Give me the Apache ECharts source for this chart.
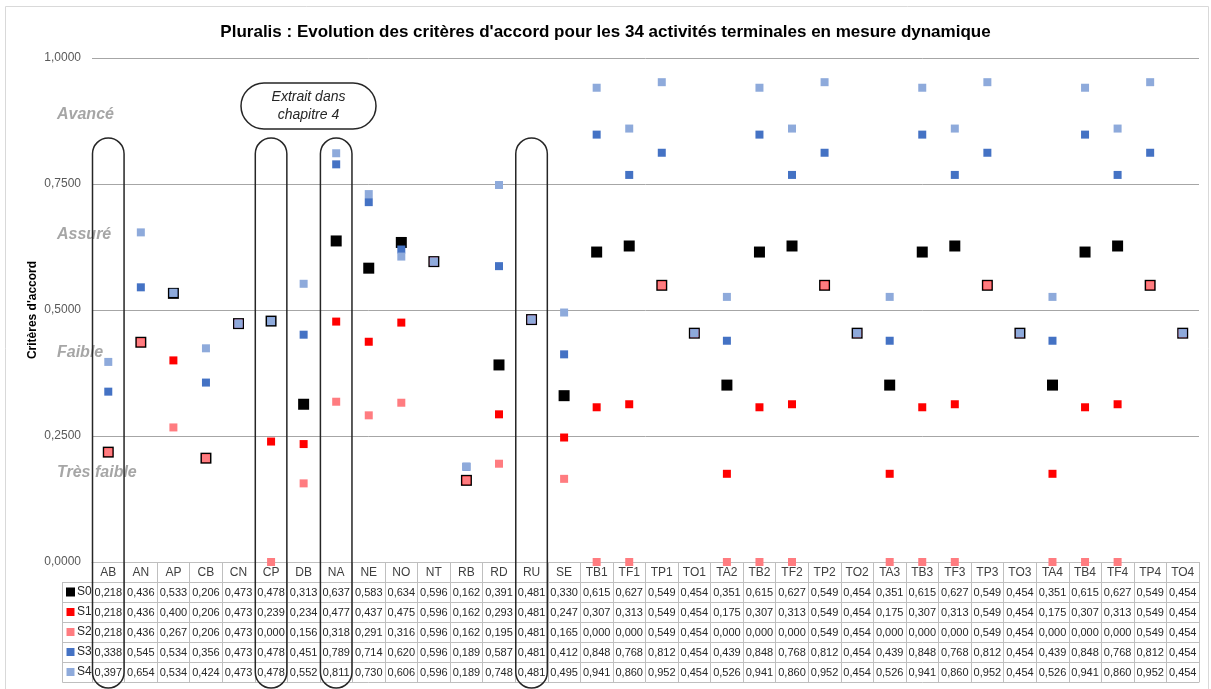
<!DOCTYPE html>
<html>
<head>
<meta charset="utf-8">
<script src="https://cdn.jsdelivr.net/npm/echarts@6/dist/echarts.min.js"></script>
<style>
  html, body { margin: 0; padding: 0; background: #fff; }
  #main-chart { width: 1211px; height: 689px; }
</style>
</head>
<body>
<div id="main-chart"></div>
<script>
// activités terminales
const categories = ['AB', 'AN', 'AP', 'CB', 'CN', 'CP', 'DB', 'NA', 'NE', 'NO', 'NT', 'RB', 'RD', 'RU', 'SE',
  'TB1', 'TF1', 'TP1', 'TO1', 'TA2', 'TB2', 'TF2', 'TP2', 'TO2', 'TA3', 'TB3', 'TF3', 'TP3', 'TO3',
  'TA4', 'TB4', 'TF4', 'TP4', 'TO4']

const s0 = [0.218, 0.436, 0.533, 0.206, 0.473, 0.478, 0.313, 0.637, 0.583, 0.634, 0.596, 0.162, 0.391, 0.481, 0.330,
  0.615, 0.627, 0.549, 0.454, 0.351, 0.615, 0.627, 0.549, 0.454, 0.351, 0.615, 0.627, 0.549, 0.454,
  0.351, 0.615, 0.627, 0.549, 0.454]
const s1 = [0.218, 0.436, 0.400, 0.206, 0.473, 0.239, 0.234, 0.477, 0.437, 0.475, 0.596, 0.162, 0.293, 0.481, 0.247,
  0.307, 0.313, 0.549, 0.454, 0.175, 0.307, 0.313, 0.549, 0.454, 0.175, 0.307, 0.313, 0.549, 0.454,
  0.175, 0.307, 0.313, 0.549, 0.454]
const s2 = [0.218, 0.436, 0.267, 0.206, 0.473, 0.000, 0.156, 0.318, 0.291, 0.316, 0.596, 0.162, 0.195, 0.481, 0.165,
  0.000, 0.000, 0.549, 0.454, 0.000, 0.000, 0.000, 0.549, 0.454, 0.000, 0.000, 0.000, 0.549, 0.454,
  0.000, 0.000, 0.000, 0.549, 0.454]
const s3 = [0.338, 0.545, 0.534, 0.356, 0.473, 0.478, 0.451, 0.789, 0.714, 0.620, 0.596, 0.189, 0.587, 0.481, 0.412,
  0.848, 0.768, 0.812, 0.454, 0.439, 0.848, 0.768, 0.812, 0.454, 0.439, 0.848, 0.768, 0.812, 0.454,
  0.439, 0.848, 0.768, 0.812, 0.454]
const s4 = [0.397, 0.654, 0.534, 0.424, 0.473, 0.478, 0.552, 0.811, 0.730, 0.606, 0.596, 0.189, 0.748, 0.481, 0.495,
  0.941, 0.860, 0.952, 0.454, 0.526, 0.941, 0.860, 0.952, 0.454, 0.526, 0.941, 0.860, 0.952, 0.454,
  0.526, 0.941, 0.860, 0.952, 0.454]

const seriesNames = ['S0', 'S1', 'S2', 'S3', 'S4']
const seriesData = [s0, s1, s2, s3, s4]
const seriesColors = ['#000000', '#ff0000', '#ff7c80', '#4472c4', '#8eaadb']

const yTicks = [0, 0.25, 0.5, 0.75, 1]
// colonnes entourées
const circled = ['AB', 'CP', 'NA', 'RU']
const levelNames = ['Avancé', 'Assuré', 'Faible', 'Très faible']

const FONT = 'Liberation Sans, Arial, sans-serif'
const GRID_L = 92, GRID_R = 1199, GRID_T = 58, GRID_B = 562
const ROW_H = 20
const tableLine = '#bfbfbf'

const fmt = (v, d) => v.toFixed(d).replace('.', ',')

let myChart = echarts.init(document.getElementById('main-chart'))

// axe des catégories + une ligne par série pour le tableau de données
const xAxes = [{
  type: 'category',
  data: categories,
  gridIndex: 0,
  position: 'bottom',
  offset: 0,
  axisLine: { show: true, lineStyle: { color: tableLine, width: 1 } },
  axisTick: { show: true, interval: 0, length: ROW_H, lineStyle: { color: tableLine } },
  axisLabel: { interval: 0, margin: 5, fontSize: 12, color: '#404040', fontFamily: FONT },
  splitLine: { show: false }
}]
seriesData.forEach((arr, i) => {
  xAxes.push({
    type: 'category',
    data: arr.map(v => fmt(v, 3)),
    position: 'bottom',
    offset: ROW_H * (i + 1),
    axisLine: { show: true, lineStyle: { color: tableLine, width: 1 } },
    axisTick: { show: true, interval: 0, length: ROW_H, lineStyle: { color: tableLine } },
    axisLabel: { interval: 0, margin: 5, fontSize: 11, color: '#262626', fontFamily: FONT },
    splitLine: { show: false }
  })
})
// ligne du bas du tableau
xAxes.push({
  type: 'category',
  data: categories,
  position: 'bottom',
  offset: ROW_H * 6,
  axisLine: { show: true, lineStyle: { color: tableLine, width: 1 } },
  axisTick: { show: false },
  axisLabel: { show: false }
})

const option = {
  animation: false,
  title: {
    text: "Pluralis : Evolution des critères d'accord pour les 34 activités terminales en mesure dynamique",
    left: 'center',
    top: 19,
    textStyle: { fontSize: 17, fontWeight: 'bold', color: '#000', fontFamily: FONT }
  },
  grid: { left: GRID_L, right: 1211 - GRID_R, top: GRID_T, bottom: 689 - GRID_B },
  xAxis: xAxes,
  yAxis: {
    type: 'value',
    min: 0,
    max: 1,
    interval: 0.25,
    name: "Critères d'accord",
    nameLocation: 'middle',
    nameRotate: 90,
    nameGap: 53,
    nameMoveOverlap: false,
    nameTextStyle: { fontSize: 12, fontWeight: 'bold', color: '#000', fontFamily: FONT },
    axisLine: { show: false },
    axisTick: { show: false },
    axisLabel: {
      margin: 11, fontSize: 12, color: '#595959', fontFamily: FONT,
      formatter: v => yTicks.includes(v) ? fmt(v, 4) : ''
    },
    splitLine: { lineStyle: { color: '#a6a6a6', width: 1 } }
  },
  series: seriesData.map((arr, i) => ({
    name: seriesNames[i],
    type: 'scatter',
    xAxisIndex: 0,
    symbol: 'rect',
    symbolSize: i === 0 ? 11 : 8,
    clip: false,
    itemStyle: { color: seriesColors[i], opacity: 1 },
    data: arr
  }))
}

myChart.setOption(option)

// annotations : bulles, niveaux, légende du tableau
const bandW = (GRID_R - GRID_L) / categories.length
const graphic = []

// cadre du graphique
graphic.push({
  type: 'rect', z: 0,
  shape: { x: 5.5, y: 6.5, width: 1203, height: 690 },
  style: { fill: null, stroke: '#d9d9d9', lineWidth: 1 }
})

circled.forEach(c => {
  const cx = myChart.convertToPixel({ xAxisIndex: 0 }, c)
  graphic.push({
    type: 'rect', z: 100,
    shape: { x: cx - bandW / 2 + 0.5, y: 138, width: bandW - 1, height: 550, r: bandW / 2 },
    style: { fill: null, stroke: '#262626', lineWidth: 1.5 }
  })
})

// bulle "Extrait dans chapitre 4"
graphic.push({
  type: 'rect', z: 100,
  shape: { x: 241, y: 83, width: 135, height: 46, r: 23 },
  style: { fill: '#fff', stroke: '#262626', lineWidth: 1.5 }
})
graphic.push({
  type: 'text', z: 101,
  x: 308.5, y: 106,
  style: {
    text: 'Extrait dans\nchapitre 4', align: 'center', verticalAlign: 'middle',
    font: 'italic 14px ' + FONT, lineHeight: 18, fill: '#262626'
  }
})

// niveaux
const levelY = [115, 235, 353, 473]
levelNames.forEach((t, i) => {
  graphic.push({
    type: 'text', z: 50,
    x: 57, y: levelY[i],
    style: {
      text: t, align: 'left', verticalAlign: 'middle',
      font: 'italic bold 16px ' + FONT, fill: '#a6a6a6'
    }
  })
})

// colonne de légende du tableau
const legL = 62
graphic.push({
  type: 'rect', z: 10,
  shape: { x: legL + 0.5, y: GRID_B + ROW_H + 0.5, width: GRID_L - legL, height: ROW_H * 5 },
  style: { fill: null, stroke: tableLine, lineWidth: 1 }
})
seriesNames.forEach((n, i) => {
  const top = GRID_B + ROW_H * (i + 1)
  graphic.push({
    type: 'line', z: 10,
    shape: { x1: legL, y1: top + 0.5, x2: GRID_L, y2: top + 0.5 },
    style: { stroke: tableLine, lineWidth: 1 }
  })
  const ks = i === 0 ? 9 : 8
  graphic.push({
    type: 'rect', z: 11,
    shape: { x: legL + 4 + (9 - ks) / 2, y: top + 10 - ks / 2, width: ks, height: ks },
    style: { fill: seriesColors[i] }
  })
  graphic.push({
    type: 'text', z: 11,
    x: legL + 15, y: top + 10,
    style: { text: n, align: 'left', verticalAlign: 'middle', font: '12px ' + FONT, fill: '#262626' }
  })
})

myChart.setOption({ graphic: graphic })
</script>
</body>
</html>
